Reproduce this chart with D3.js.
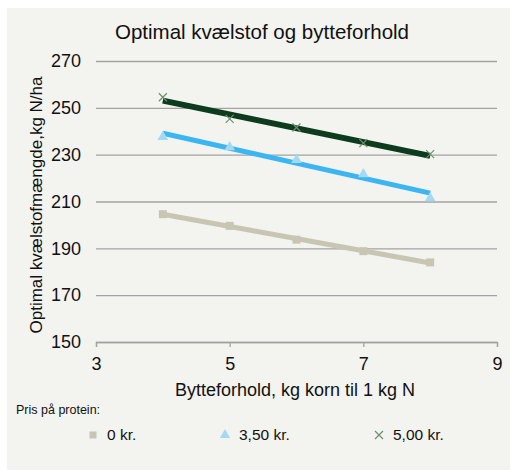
<!DOCTYPE html>
<html>
<head>
<meta charset="utf-8">
<script src="https://cdn.jsdelivr.net/npm/d3@7"></script>
<style>
  body { margin: 0; background: #fff; }
  svg { display: block; font-family: "Liberation Sans", Arial, sans-serif; }
</style>
</head>
<body>
<div id="chart"></div>
<script>
const width = 510;
const height = 471;

// values
const ratios = [4, 5, 6, 7, 8];
const price0 = [204.6, 199.6, 193.7, 188.8, 184.0];
const price350 = [237.6, 233.2, 227.8, 221.7, 211.4];
const price500 = [254.5, 245.3, 241.6, 234.9, 230.2];
const yTicks = [150, 170, 190, 210, 230, 250, 270];
const xTicks = [3, 5, 7, 9];

const series = [
  { name: '0 kr.', values: price0, line: '#c8c6b2', mark: '#c8c6b2', shape: 'square', lw: 5 },
  { name: '3,50 kr.', values: price350, line: '#3cb6f2', mark: '#a3daf3', shape: 'triangle', lw: 5 },
  { name: '5,00 kr.', values: price500, line: '#0c3b1d', mark: '#6f8f72', shape: 'cross', lw: 6 }
];

// least squares trend line
function trend(xs, ys) {
  const mx = d3.mean(xs), my = d3.mean(ys);
  const slope = d3.sum(xs, (x, i) => (x - mx) * (ys[i] - my)) / d3.sum(xs, x => (x - mx) ** 2);
  return x => my + slope * (x - mx);
}

function createChart() {
  const svg = d3.select('#chart')
    .append('svg')
    .attr('width', width)
    .attr('height', height);

  svg.append('rect')
    .attr('x', 7).attr('y', 8)
    .attr('width', width - 7).attr('height', height - 9)
    .attr('fill', '#f3f3ef');

  const xScale = d3.scaleLinear().domain([3, 9]).range([96, 497]);
  const yScale = d3.scaleLinear().domain([150, 270]).range([342, 61]);

  // gridlines
  svg.append('g')
    .attr('transform', 'translate(96,0)')
    .call(d3.axisLeft(yScale).tickValues(yTicks).tickFormat('').tickSize(-401))
    .call(g => g.select('.domain').remove())
    .call(g => g.selectAll('line').attr('stroke', '#a3a3a3').attr('stroke-width', 1.3));

  // y labels
  svg.append('g')
    .selectAll('text')
    .data(yTicks)
    .join('text')
    .attr('x', 81)
    .attr('y', d => yScale(d))
    .attr('dy', '0.35em')
    .attr('text-anchor', 'end')
    .attr('font-size', 18)
    .attr('fill', '#111')
    .text(d => d);

  // x axis
  const xAxis = svg.append('g')
    .attr('transform', `translate(0,${yScale(150)})`)
    .call(d3.axisBottom(xScale).tickValues(xTicks).tickFormat(d3.format('d')).tickSize(5).tickPadding(10));
  xAxis.select('.domain').attr('stroke', '#a3a3a3').attr('stroke-width', 1.3);
  xAxis.selectAll('line').attr('stroke', '#a3a3a3').attr('stroke-width', 1.3);
  xAxis.selectAll('text')
    .attr('font-size', 18)
    .attr('fill', '#111')
    .attr('font-family', '"Liberation Sans", Arial, sans-serif');

  // trend lines
  series.forEach(s => {
    const f = trend(ratios, s.values);
    const x0 = d3.min(ratios), x1 = d3.max(ratios);
    svg.append('line')
      .attr('x1', xScale(x0)).attr('y1', yScale(f(x0)))
      .attr('x2', xScale(x1)).attr('y2', yScale(f(x1)))
      .attr('stroke', s.line)
      .attr('stroke-width', s.lw);
  });

  // markers
  const symbols = { square: d3.symbolSquare, triangle: d3.symbolTriangle };
  series.forEach(s => {
    const g = svg.append('g');
    ratios.forEach((r, i) => {
      const cx = xScale(r), cy = yScale(s.values[i]);
      if (s.shape === 'cross') {
        g.append('path')
          .attr('d', `M${cx - 4},${cy - 4}L${cx + 4},${cy + 4}M${cx - 4},${cy + 4}L${cx + 4},${cy - 4}`)
          .attr('stroke', s.mark).attr('stroke-width', 1.2).attr('fill', 'none');
      } else {
        g.append('path')
          .attr('d', d3.symbol(symbols[s.shape], s.shape === 'square' ? 64 : 50)())
          .attr('transform', `translate(${cx},${cy})`)
          .attr('fill', s.mark);
      }
    });
  });

  // titles
  svg.append('text')
    .attr('x', 262).attr('y', 39)
    .attr('text-anchor', 'middle')
    .attr('font-size', 20.5)
    .attr('fill', '#111')
    .text('Optimal kvælstof og bytteforhold');

  svg.append('text')
    .attr('transform', 'translate(42,205) rotate(-90)')
    .attr('text-anchor', 'middle')
    .attr('font-size', 17)
    .attr('fill', '#111')
    .text('Optimal kvælstofmængde,kg N/ha');

  svg.append('text')
    .attr('x', 295).attr('y', 396)
    .attr('text-anchor', 'middle')
    .attr('font-size', 18)
    .attr('fill', '#111')
    .text('Bytteforhold, kg korn til 1 kg N');

  // legend
  svg.append('text')
    .attr('x', 16).attr('y', 414)
    .attr('font-size', 12.5)
    .attr('fill', '#111')
    .text('Pris på protein:');

  const legendX = [93, 225, 379];
  series.forEach((s, i) => {
    const lx = legendX[i], ly = 435;
    if (s.shape === 'cross') {
      svg.append('path')
        .attr('d', `M${lx - 4},${ly - 4}L${lx + 4},${ly + 4}M${lx - 4},${ly + 4}L${lx + 4},${ly - 4}`)
        .attr('stroke', s.mark).attr('stroke-width', 1.2);
    } else {
      svg.append('path')
        .attr('d', d3.symbol(symbols[s.shape], s.shape === 'square' ? 49 : 45)())
        .attr('transform', `translate(${lx},${ly})`)
        .attr('fill', s.mark);
    }
    svg.append('text')
      .attr('x', lx + 14).attr('y', ly)
      .attr('dy', '0.35em')
      .attr('font-size', 15.5)
      .attr('fill', '#111')
      .text(s.name);
  });
}

createChart();
</script>
</body>
</html>
